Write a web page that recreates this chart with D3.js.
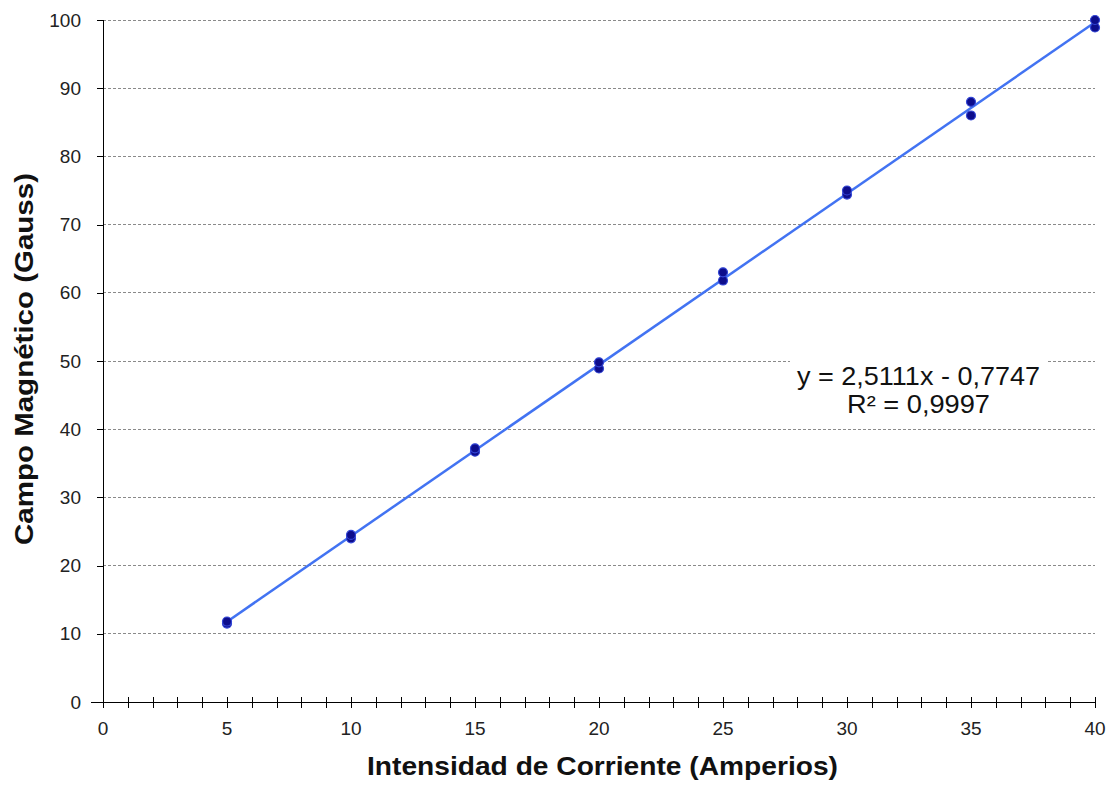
<!DOCTYPE html>
<html>
<head>
<meta charset="utf-8">
<script src="https://cdn.jsdelivr.net/npm/d3@7"></script>
<style>
  html, body { margin: 0; padding: 0; background: #fff; }
  svg { display: block; }
  text { font-family: "Liberation Sans", Arial, sans-serif; }
</style>
</head>
<body>
<svg id="chart" width="1113" height="790"></svg>
<script>
// Measured current (A) and magnetic field (G), two readings per current
const currents = [5, 5, 10, 10, 15, 15, 20, 20, 25, 25, 30, 30, 35, 35, 40, 40];
const fields   = [11.5, 11.8, 24.0, 24.5, 36.7, 37.2, 48.9, 49.8, 61.8, 63.0, 74.4, 75.0, 86.0, 88.0, 98.9, 100.0];

// Linear fit reported on the chart
const slope = 2.5111;
const intercept = -0.7747;
const rSquared = 0.9997;

const xMajorTicks = [0, 5, 10, 15, 20, 25, 30, 35, 40];
const xMinorTicks = d3.range(0, 41, 1);
const yTicks = [0, 10, 20, 30, 40, 50, 60, 70, 80, 90, 100];

const fmt = v => String(v).replace(".", ",");

const svg = d3.select("#chart");
const margin = { left: 103, right: 18, top: 20, bottom: 88 };
const W = 1113, H = 790;

const x = d3.scaleLinear().domain([0, 40]).range([margin.left, W - margin.right]);
const y = d3.scaleLinear().domain([0, 100]).range([H - margin.bottom, margin.top]);

// Horizontal dashed gridlines
svg.append("g")
  .selectAll("line")
  .data(yTicks.filter(d => d > 0))
  .join("line")
  .attr("x1", x(0)).attr("x2", x(40))
  .attr("y1", d => y(d)).attr("y2", d => y(d))
  .attr("stroke", "#8a8a8a")
  .attr("stroke-width", 1)
  .attr("stroke-dasharray", "3,2")
  .attr("shape-rendering", "crispEdges");

// Y axis
const yAxis = svg.append("g")
  .attr("transform", `translate(${x(0)},0)`)
  .call(d3.axisLeft(y).tickValues(yTicks).tickSize(6).tickPadding(16).tickFormat(d => d));
yAxis.select(".domain").attr("stroke", "#000").attr("shape-rendering", "crispEdges").attr("d", `M0,${y(0)}V${y(100)}`);
yAxis.selectAll(".tick line").attr("stroke", "#000").attr("shape-rendering", "crispEdges");
yAxis.selectAll(".tick text")
  .style("font-size", "19px").attr("fill", "#222")
  .style("font-family", "'Liberation Sans', Arial, sans-serif");

// X axis: minor ticks every unit crossing the axis line
const xAxisG = svg.append("g").attr("transform", `translate(0,${y(0)})`);
xAxisG.append("line")
  .attr("x1", x(0) - 12).attr("x2", x(40))
  .attr("stroke", "#000").attr("shape-rendering", "crispEdges");
xAxisG.selectAll("line.minor")
  .data(xMinorTicks)
  .join("line")
  .attr("class", "minor")
  .attr("x1", d => Math.round(x(d)) + 0.5).attr("x2", d => Math.round(x(d)) + 0.5)
  .attr("y1", -5).attr("y2", 6)
  .attr("stroke", "#000");
xAxisG.selectAll("text")
  .data(xMajorTicks)
  .join("text")
  .attr("x", d => x(d))
  .attr("y", 33)
  .attr("text-anchor", "middle")
  .style("font-size", "19px")
  .attr("fill", "#222")
  .text(d => d);

// Trendline
const xFit = d3.extent(currents);
svg.append("line")
  .attr("x1", x(xFit[0])).attr("y1", y(slope * xFit[0] + intercept))
  .attr("x2", x(xFit[1])).attr("y2", y(slope * xFit[1] + intercept))
  .attr("stroke", "#4273f2")
  .attr("stroke-width", 2.5);

// Data points
svg.append("g")
  .selectAll("circle")
  .data(currents.map((c, i) => [c, fields[i]]))
  .join("circle")
  .attr("cx", d => x(d[0]))
  .attr("cy", d => y(d[1]))
  .attr("r", 4.5)
  .attr("fill", "#0d0d8c")
  .attr("stroke", "#3346d6")
  .attr("stroke-width", 1.2);

// Equation label with white background
const eqG = svg.append("g");
eqG.append("rect")
  .attr("x", 790).attr("y", 356).attr("width", 257).attr("height", 64)
  .attr("fill", "#fff");
eqG.append("text")
  .attr("x", 797).attr("y", 385)
  .attr("textLength", 243).attr("lengthAdjust", "spacingAndGlyphs")
  .style("font-size", "26px").attr("fill", "#111")
  .text(`y = ${fmt(slope)}x - ${fmt(-intercept)}`);
eqG.append("text")
  .attr("x", 847).attr("y", 413)
  .attr("textLength", 143).attr("lengthAdjust", "spacingAndGlyphs")
  .style("font-size", "26px").attr("fill", "#111")
  .text(`R² = ${fmt(rSquared)}`);

// Axis titles
svg.append("text")
  .attr("x", 367).attr("y", 775)
  .attr("textLength", 471).attr("lengthAdjust", "spacingAndGlyphs")
  .style("font-size", "25px").attr("font-weight", "bold").attr("fill", "#111")
  .text("Intensidad de Corriente (Amperios)");
svg.append("text")
  .attr("transform", `translate(33,545) rotate(-90)`)
  .attr("textLength", 372).attr("lengthAdjust", "spacingAndGlyphs")
  .style("font-size", "25px").attr("font-weight", "bold").attr("fill", "#111")
  .text("Campo Magnético (Gauss)");
</script>
</body>
</html>
